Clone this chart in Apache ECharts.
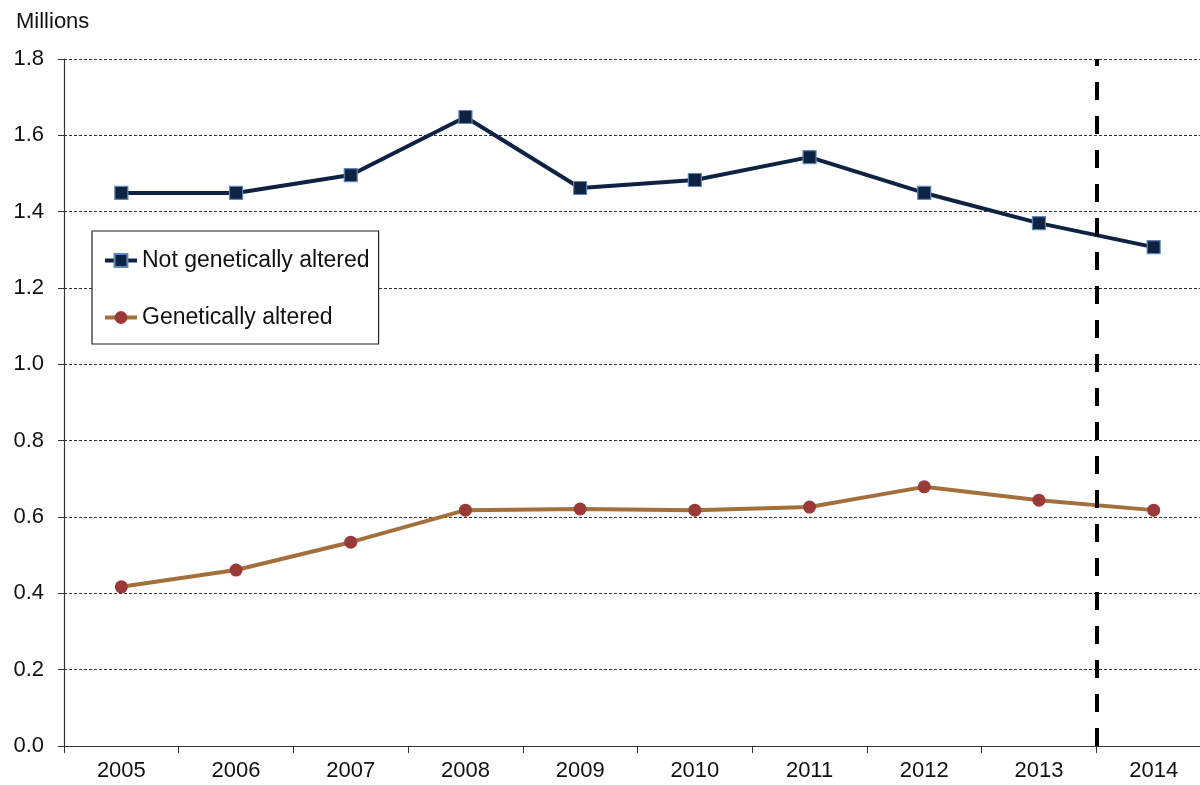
<!DOCTYPE html>
<html><head><meta charset="utf-8">
<script src="https://cdn.jsdelivr.net/npm/echarts@6/dist/echarts.min.js"></script>
<style>html,body{margin:0;padding:0;background:#fff;overflow:hidden;width:1200px;height:785px}#c{width:1220px;height:785px}</style>
</head><body><div id="c"></div>
<script>
const years = ['2005','2006','2007','2008','2009','2010','2011','2012','2013','2014'];
const notGA = [1.449,1.449,1.496,1.648,1.462,1.483,1.543,1.449,1.370,1.307];
const ga = [0.417,0.461,0.534,0.618,0.621,0.618,0.626,0.679,0.644,0.618];
const yTicks = [0,0.2,0.4,0.6,0.8,1.0,1.2,1.4,1.6,1.8];
const dividerAt = 9; // boundary between 2013 and 2014 (category index units)

const chart = echarts.init(document.getElementById('c'), null, {renderer:'canvas'});
const font = 'Liberation Sans, Arial, sans-serif';
chart.setOption({
  animation:false,
  textStyle:{fontFamily:font},
  graphic:[{type:'text', left:16, top:11, style:{text:'Millions', font:'22px '+font, fill:'#111'}}],
  grid:{left:64, top:59, width:1147, height:687, containLabel:false},
  legend:{
    orient:'vertical', left:92, top:231,
    data:['Not genetically altered','Genetically altered'],
    backgroundColor:'#fff', borderColor:'#222', borderWidth:1.2,
    padding:[18,9,15,11], itemGap:34, itemWidth:32, itemHeight:16,
    lineStyle:{width:4},
    textStyle:{fontSize:23, color:'#111', fontFamily:font}
  },
  xAxis:[{
    type:'category', data:years, boundaryGap:true,
    axisLine:{lineStyle:{color:'#333', width:1.2}},
    axisTick:{show:true, length:7, lineStyle:{color:'#333'}},
    axisLabel:{fontSize:22, color:'#111', margin:14, fontFamily:font},
    splitLine:{show:false}
  },{
    type:'value', min:0, max:10, show:false
  }],
  yAxis:{
    type:'value', min:0, max:1.8, interval:0.2,
    axisLine:{show:true, lineStyle:{color:'#333', width:1.2}},
    axisTick:{show:true, length:6, lineStyle:{color:'#333'}},
    axisLabel:{fontSize:22, color:'#111', margin:20, fontFamily:font,
      formatter:v=>v.toFixed(1)},
    splitLine:{show:true, lineStyle:{color:'#333', width:1, type:[3,2]}}
  },
  series:[{
    name:'Not genetically altered', type:'line', data:notGA,
    symbol:'rect', symbolSize:13,
    lineStyle:{color:'#0e2242', width:4},
    itemStyle:{color:'#0e2242', borderColor:'#5f86b8', borderWidth:1.2},
    z:3
  },{
    name:'Genetically altered', type:'line', data:ga,
    symbol:'circle', symbolSize:13,
    lineStyle:{color:'#a36f3a', width:4},
    itemStyle:{color:'#9a3a38', borderColor:'#9a3a38', borderWidth:0},
    z:3
  },{
    name:'divider', type:'line', xAxisIndex:1, data:[], silent:true,
    markLine:{symbol:'none', silent:true, label:{show:false},
      lineStyle:{color:'#000', width:4, type:[18,16]},
      data:[{xAxis:dividerAt}]},
    z:4
  }]
});
</script></body></html>
